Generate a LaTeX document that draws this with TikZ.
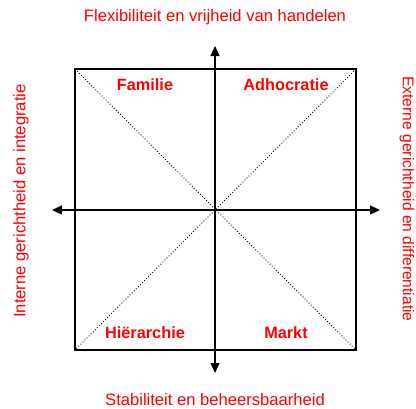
\documentclass[tikz,border=0pt]{standalone}
\usepackage{fontspec}
\setmainfont{Liberation Sans}
\usetikzlibrary{arrows.meta,positioning,calc}
\definecolor{qRed}{HTML}{FF0000}

\begin{document}
\begin{tikzpicture}[x=1pt,y=-1pt,font=\fontsize{16.6}{19}\selectfont,
    axislabel/.style={text=qRed,inner sep=0pt},
    quadlabel/.style={text=qRed,font=\fontsize{16.3}{19}\selectfont\bfseries,inner sep=0pt},
    axis/.style={line width=1.3pt,-{Triangle[length=10pt,width=9pt]}}]
  \useasboundingbox (0,0) rectangle (416,408);
  % frame and diagonals
  \coordinate (nw) at (75,69);
  \coordinate (ne) at (356,69);
  \coordinate (sw) at (75,350);
  \coordinate (se) at (356,350);
  \draw[line width=1.3pt] (nw) rectangle (se);
  \draw[dotted,line width=0.9pt] (nw) -- (se) (ne) -- (sw);
  % axes
  \coordinate (top) at (215,46);
  \coordinate (bot) at (215,373);
  \coordinate (lft) at (52,210);
  \coordinate (rgt) at (380,210);
  \coordinate (mid) at (215,210);
  \draw[axis] (mid) -- (top);
  \draw[axis] (mid) -- (bot);
  \draw[axis] (mid) -- (lft);
  \draw[axis] (mid) -- (rgt);
  % quadrants
  \node[quadlabel] (fam) at (145,85) {Familie};
  \node[quadlabel] (adh) at (286,85) {Adhocratie};
  \node[quadlabel] (hie) at (145,333) {Hiërarchie};
  \node[quadlabel] (mkt) at (286,333) {Markt};
  % axis texts
  \node[axislabel] (flex) at (215,17) {Flexibiliteit en vrijheid van handelen};
  \node[axislabel] (stab) at (215,400) {Stabiliteit en beheersbaarheid};
  \node[axislabel,rotate=90] (intern) at (21,201) {Interne gerichtheid en integratie};
  \node[axislabel,rotate=-90,font=\fontsize{15.6}{18}\selectfont] (extern) at (407,199) {Externe gerichtheid en differentiatie};
\end{tikzpicture}
\end{document}
